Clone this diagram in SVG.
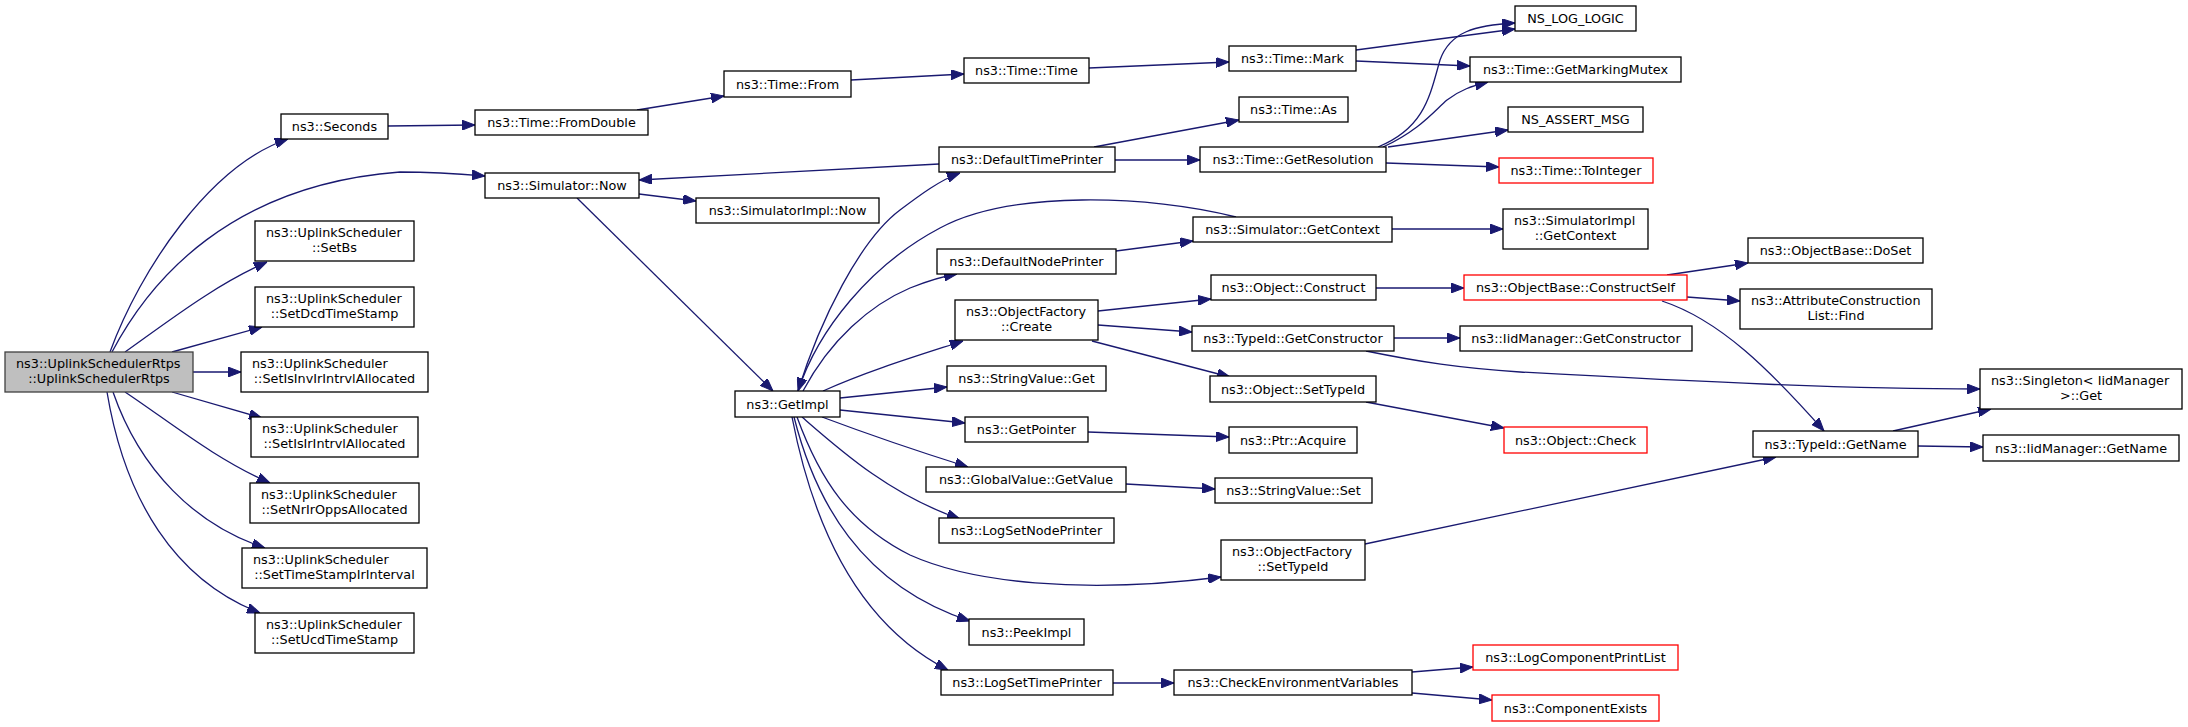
<svg xmlns="http://www.w3.org/2000/svg" width="2188" height="727" viewBox="0 0 2188 727">
<style>
.n rect{fill:#fff;stroke:#000;stroke-width:1.3}
.n.main rect{fill:#bfbfbf;stroke:#404040}
.n.red rect{stroke:#ff0000}
.n text{font-family:"DejaVu Sans",sans-serif;font-size:12.8px;fill:#000}
.c{text-anchor:middle}
.e path{fill:none;stroke:#191970;stroke-width:1.3}
</style>
<defs>
<marker id="a" markerUnits="userSpaceOnUse" markerWidth="13" markerHeight="10" viewBox="0 0 13 10" refX="13" refY="5" orient="auto">
<path d="M0,0 L13,5 L0,10 z" fill="#191970" stroke="#191970" stroke-width="1"/>
</marker>
</defs>
<rect width="2188" height="727" fill="#fff"/>
<g id="edges" class="e" marker-end="url(#a)">
<path marker-end="url(#a)" d="M110,352 C140,270 210,165 288,139"/>
<path marker-end="url(#a)" d="M112,352 C150,280 230,185 400,172 C440,172 462,174 485,176"/>
<path marker-end="url(#a)" d="M125,352 C170,320 215,285 267,262"/>
<path marker-end="url(#a)" d="M172,352 L262,327"/>
<path marker-end="url(#a)" d="M193,372 L241,372"/>
<path marker-end="url(#a)" d="M172,392 L262,418"/>
<path marker-end="url(#a)" d="M125,392 C170,422 215,459 270,483"/>
<path marker-end="url(#a)" d="M113,392 C140,470 195,525 265,548"/>
<path marker-end="url(#a)" d="M107,392 C125,500 175,580 260,613"/>
<path marker-end="url(#a)" d="M388,126 L475,125"/>
<path marker-end="url(#a)" d="M637,110 L724,96"/>
<path marker-end="url(#a)" d="M851,80 L964,74"/>
<path marker-end="url(#a)" d="M1089,68 L1229,62"/>
<path marker-end="url(#a)" d="M1356,50 L1515,29"/>
<path marker-end="url(#a)" d="M1356,61 L1470,66"/>
<path marker-end="url(#a)" d="M1378,147 C1425,128 1430,95 1440,60 C1450,32 1475,25 1515,23"/>
<path marker-end="url(#a)" d="M1383,147 C1420,130 1435,110 1447,100 C1460,90 1472,86 1488,82"/>
<path marker-end="url(#a)" d="M1388,147 L1508,130"/>
<path marker-end="url(#a)" d="M1386,163 L1499,167"/>
<path marker-end="url(#a)" d="M1094,147 L1239,120"/>
<path marker-end="url(#a)" d="M1115,160 L1200,160"/>
<path marker-end="url(#a)" d="M939,164 L639,180"/>
<path marker-end="url(#a)" d="M639,194 L696,201"/>
<path marker-end="url(#a)" d="M577,198 L773,391"/>
<path marker-end="url(#a)" d="M798,391 C820,320 860,240 900,210 C920,195 940,180 960,173"/>
<path marker-end="url(#a)" d="M1236,217 C1150,195 1010,190 940,228 C870,265 818,330 798,391"/>
<path marker-end="url(#a)" d="M803,391 C830,340 870,305 910,288 C930,280 945,276 957,274"/>
<path marker-end="url(#a)" d="M823,391 C870,370 920,355 963,341"/>
<path marker-end="url(#a)" d="M840,398 L947,387"/>
<path marker-end="url(#a)" d="M840,410 L965,423"/>
<path marker-end="url(#a)" d="M822,417 C870,435 920,452 968,467"/>
<path marker-end="url(#a)" d="M802,417 C840,450 890,495 960,519"/>
<path marker-end="url(#a)" d="M797,417 C820,480 850,525 910,555 C970,582 1080,595 1221,577"/>
<path marker-end="url(#a)" d="M794,417 C815,500 860,585 970,621"/>
<path marker-end="url(#a)" d="M792,417 C810,510 850,620 948,670"/>
<path marker-end="url(#a)" d="M1116,251 L1193,241"/>
<path marker-end="url(#a)" d="M1392,229 L1503,229"/>
<path marker-end="url(#a)" d="M1098,311 L1211,299"/>
<path marker-end="url(#a)" d="M1098,325 L1192,332"/>
<path marker-end="url(#a)" d="M1092,341 L1230,377"/>
<path marker-end="url(#a)" d="M1376,288 L1464,288"/>
<path marker-end="url(#a)" d="M1394,338 L1460,338"/>
<path marker-end="url(#a)" d="M1366,351 C1420,362 1460,368 1520,372 C1700,382 1850,389 1980,389"/>
<path marker-end="url(#a)" d="M1366,402 L1504,428"/>
<path marker-end="url(#a)" d="M1667,275 L1748,263"/>
<path marker-end="url(#a)" d="M1687,297 L1740,301"/>
<path marker-end="url(#a)" d="M1662,301 C1720,320 1770,370 1824,431"/>
<path marker-end="url(#a)" d="M1893,431 L1991,409"/>
<path marker-end="url(#a)" d="M1918,446 L1983,447"/>
<path marker-end="url(#a)" d="M1365,544 L1776,457"/>
<path marker-end="url(#a)" d="M1088,432 L1229,437"/>
<path marker-end="url(#a)" d="M1126,484 L1215,489"/>
<path marker-end="url(#a)" d="M1113,683 L1174,683"/>
<path marker-end="url(#a)" d="M1412,672 L1473,667"/>
<path marker-end="url(#a)" d="M1412,693 L1492,700"/>
</g>
<g id="n_main" class="n main"><rect x="5" y="352" width="188" height="40"/><text x="16" y="367.5">ns3::UplinkSchedulerRtps</text><text class="c" x="99" y="382.5">::UplinkSchedulerRtps</text></g>
<g id="n_seconds" class="n"><rect x="281" y="114" width="107" height="25"/><text class="c" x="334.5" y="131">ns3::Seconds</text></g>
<g id="n_setbs" class="n"><rect x="255" y="221" width="159" height="40"/><text x="266" y="236.5">ns3::UplinkScheduler</text><text class="c" x="334.5" y="251.5">::SetBs</text></g>
<g id="n_setdcd" class="n"><rect x="255" y="287" width="159" height="40"/><text x="266" y="302.5">ns3::UplinkScheduler</text><text class="c" x="334.5" y="317.5">::SetDcdTimeStamp</text></g>
<g id="n_setisinv" class="n"><rect x="241" y="352" width="187" height="40"/><text x="252" y="367.5">ns3::UplinkScheduler</text><text class="c" x="334.5" y="382.5">::SetIsInvIrIntrvlAllocated</text></g>
<g id="n_setisir" class="n"><rect x="251" y="417" width="167" height="40"/><text x="262" y="432.5">ns3::UplinkScheduler</text><text class="c" x="334.5" y="447.5">::SetIsIrIntrvlAllocated</text></g>
<g id="n_setnr" class="n"><rect x="250" y="483" width="169" height="40"/><text x="261" y="498.5">ns3::UplinkScheduler</text><text class="c" x="334.5" y="513.5">::SetNrIrOppsAllocated</text></g>
<g id="n_setts" class="n"><rect x="242" y="548" width="185" height="40"/><text x="253" y="563.5">ns3::UplinkScheduler</text><text class="c" x="334.5" y="578.5">::SetTimeStampIrInterval</text></g>
<g id="n_setucd" class="n"><rect x="255" y="613" width="159" height="40"/><text x="266" y="628.5">ns3::UplinkScheduler</text><text class="c" x="334.5" y="643.5">::SetUcdTimeStamp</text></g>
<g id="n_fromdouble" class="n"><rect x="475" y="110" width="173" height="25"/><text class="c" x="561.5" y="127">ns3::Time::FromDouble</text></g>
<g id="n_timefrom" class="n"><rect x="724" y="71" width="127" height="26"/><text class="c" x="787.5" y="88.5">ns3::Time::From</text></g>
<g id="n_simnow" class="n"><rect x="485" y="173" width="154" height="25"/><text class="c" x="562" y="190">ns3::Simulator::Now</text></g>
<g id="n_simimplnow" class="n"><rect x="696" y="198" width="183" height="25"/><text class="c" x="787.5" y="215">ns3::SimulatorImpl::Now</text></g>
<g id="n_timetime" class="n"><rect x="964" y="58" width="125" height="25"/><text class="c" x="1026.5" y="75">ns3::Time::Time</text></g>
<g id="n_mark" class="n"><rect x="1229" y="46" width="127" height="25"/><text class="c" x="1292.5" y="63">ns3::Time::Mark</text></g>
<g id="n_as" class="n"><rect x="1239" y="97" width="109" height="25"/><text class="c" x="1293.5" y="114">ns3::Time::As</text></g>
<g id="n_dtp" class="n"><rect x="939" y="147" width="176" height="25"/><text class="c" x="1027" y="164">ns3::DefaultTimePrinter</text></g>
<g id="n_getres" class="n"><rect x="1200" y="147" width="186" height="25"/><text class="c" x="1293" y="164">ns3::Time::GetResolution</text></g>
<g id="n_nslog" class="n"><rect x="1515" y="6" width="121" height="25"/><text class="c" x="1575.5" y="23">NS_LOG_LOGIC</text></g>
<g id="n_mutex" class="n"><rect x="1470" y="57" width="211" height="25"/><text class="c" x="1575.5" y="74">ns3::Time::GetMarkingMutex</text></g>
<g id="n_assert" class="n"><rect x="1508" y="107" width="135" height="25"/><text class="c" x="1575.5" y="124">NS_ASSERT_MSG</text></g>
<g id="n_toint" class="n red"><rect x="1499" y="158" width="154" height="25"/><text class="c" x="1576" y="175">ns3::Time::ToInteger</text></g>
<g id="n_getctx" class="n"><rect x="1193" y="217" width="199" height="25"/><text class="c" x="1292.5" y="234">ns3::Simulator::GetContext</text></g>
<g id="n_dnp" class="n"><rect x="937" y="249" width="179" height="25"/><text class="c" x="1026.5" y="266">ns3::DefaultNodePrinter</text></g>
<g id="n_construct" class="n"><rect x="1211" y="275" width="165" height="25"/><text class="c" x="1293.5" y="292">ns3::Object::Construct</text></g>
<g id="n_create" class="n"><rect x="955" y="300" width="143" height="40"/><text x="966" y="315.5">ns3::ObjectFactory</text><text class="c" x="1026.5" y="330.5">::Create</text></g>
<g id="n_getctor" class="n"><rect x="1192" y="326" width="202" height="25"/><text class="c" x="1293" y="343">ns3::TypeId::GetConstructor</text></g>
<g id="n_svget" class="n"><rect x="947" y="366" width="159" height="25"/><text class="c" x="1026.5" y="383">ns3::StringValue::Get</text></g>
<g id="n_settypeid" class="n"><rect x="1210" y="376" width="166" height="26"/><text class="c" x="1293" y="393.5">ns3::Object::SetTypeId</text></g>
<g id="n_getimpl" class="n"><rect x="735" y="391" width="105" height="26"/><text class="c" x="787.5" y="408.5">ns3::GetImpl</text></g>
<g id="n_getpointer" class="n"><rect x="965" y="417" width="123" height="25"/><text class="c" x="1026.5" y="434">ns3::GetPointer</text></g>
<g id="n_acquire" class="n"><rect x="1229" y="427" width="128" height="26"/><text class="c" x="1293" y="444.5">ns3::Ptr::Acquire</text></g>
<g id="n_getvalue" class="n"><rect x="926" y="467" width="200" height="25"/><text class="c" x="1026" y="484">ns3::GlobalValue::GetValue</text></g>
<g id="n_simimplctx" class="n"><rect x="1503" y="209" width="145" height="40"/><text x="1514" y="224.5">ns3::SimulatorImpl</text><text class="c" x="1575.5" y="239.5">::GetContext</text></g>
<g id="n_doset" class="n"><rect x="1748" y="238" width="175" height="25"/><text class="c" x="1835.5" y="255">ns3::ObjectBase::DoSet</text></g>
<g id="n_constructself" class="n red"><rect x="1464" y="275" width="223" height="25"/><text class="c" x="1575.5" y="292">ns3::ObjectBase::ConstructSelf</text></g>
<g id="n_attrfind" class="n"><rect x="1740" y="289" width="192" height="40"/><text x="1751" y="304.5">ns3::AttributeConstruction</text><text class="c" x="1836" y="319.5">List::Find</text></g>
<g id="n_iidctor" class="n"><rect x="1460" y="326" width="232" height="25"/><text class="c" x="1576" y="343">ns3::IidManager::GetConstructor</text></g>
<g id="n_singleton" class="n"><rect x="1980" y="369" width="202" height="40"/><text x="1991" y="384.5">ns3::Singleton&lt; IidManager</text><text class="c" x="2081" y="399.5">&gt;::Get</text></g>
<g id="n_check" class="n red"><rect x="1504" y="427" width="143" height="26"/><text class="c" x="1575.5" y="444.5">ns3::Object::Check</text></g>
<g id="n_getname" class="n"><rect x="1753" y="431" width="165" height="26"/><text class="c" x="1835.5" y="448.5">ns3::TypeId::GetName</text></g>
<g id="n_iidgetname" class="n"><rect x="1983" y="435" width="196" height="26"/><text class="c" x="2081" y="452.5">ns3::IidManager::GetName</text></g>
<g id="n_svset" class="n"><rect x="1215" y="478" width="157" height="25"/><text class="c" x="1293.5" y="495">ns3::StringValue::Set</text></g>
<g id="n_lsnp" class="n"><rect x="939" y="518" width="175" height="25"/><text class="c" x="1026.5" y="535">ns3::LogSetNodePrinter</text></g>
<g id="n_ofsettypeid" class="n"><rect x="1221" y="540" width="144" height="40"/><text x="1232" y="555.5">ns3::ObjectFactory</text><text class="c" x="1293" y="570.5">::SetTypeId</text></g>
<g id="n_peek" class="n"><rect x="969" y="619" width="115" height="26"/><text class="c" x="1026.5" y="636.5">ns3::PeekImpl</text></g>
<g id="n_lstp" class="n"><rect x="941" y="670" width="172" height="25"/><text class="c" x="1027" y="687">ns3::LogSetTimePrinter</text></g>
<g id="n_checkenv" class="n"><rect x="1174" y="670" width="238" height="25"/><text class="c" x="1293" y="687">ns3::CheckEnvironmentVariables</text></g>
<g id="n_lcpl" class="n red"><rect x="1473" y="645" width="205" height="25"/><text class="c" x="1575.5" y="662">ns3::LogComponentPrintList</text></g>
<g id="n_compexists" class="n red"><rect x="1492" y="695" width="167" height="26"/><text class="c" x="1575.5" y="712.5">ns3::ComponentExists</text></g>
</svg>
